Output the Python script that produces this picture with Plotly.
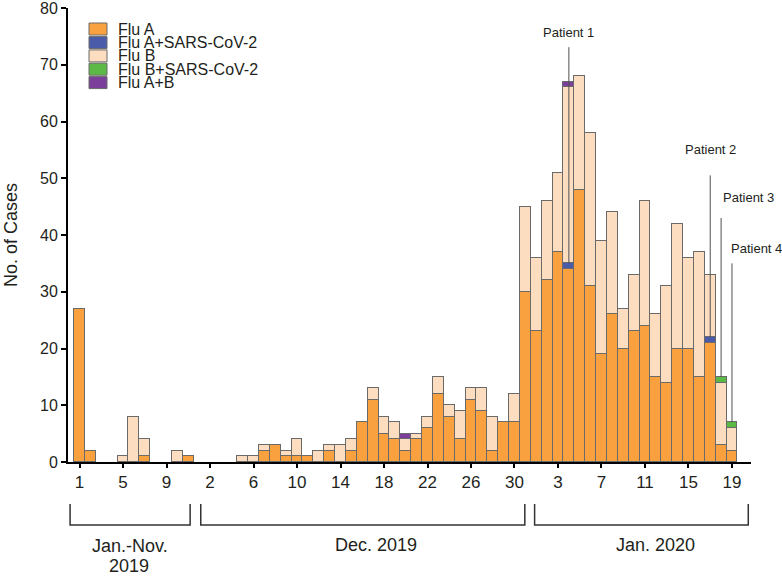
import plotly.graph_objects as go

# ---------------- data ----------------
months_2019 = ["2019-%02d" % m for m in range(1, 12)]
dec_2019 = ["2019-12-%02d" % d for d in range(1, 32)]
jan_2020 = ["2020-01-%02d" % d for d in range(1, 20)]
categories = months_2019 + dec_2019 + jan_2020

flu_a = ([27, 2, 0, 0, 0, 0, 1, 0, 0, 0, 1] +
         [0, 0, 0, 0, 0, 0, 2, 3, 1, 1, 1, 0, 2, 0, 2, 7, 11, 5, 4, 2, 4, 6, 12, 8, 4, 11, 9, 2, 7, 7, 30] +
         [23, 32, 37, 34, 48, 31, 19, 26, 20, 23, 24, 15, 14, 20, 20, 15, 21, 3, 2])
flu_a_sars = ([0] * 11 + [0] * 31 +
              [0, 0, 0, 1, 0, 0, 0, 0, 0, 0, 0, 0, 0, 0, 0, 0, 1, 0, 0])
flu_b = ([0, 0, 0, 0, 1, 8, 3, 0, 0, 2, 0] +
         [0, 0, 0, 0, 1, 1, 1, 0, 1, 3, 0, 2, 1, 3, 2, 0, 2, 3, 3, 2, 1, 2, 3, 2, 5, 2, 4, 6, 0, 5, 15] +
         [13, 14, 14, 31, 20, 27, 20, 18, 7, 10, 22, 11, 17, 22, 16, 22, 11, 11, 4])
flu_b_sars = ([0] * 11 + [0] * 31 +
              [0] * 17 + [1, 1])
flu_ab = ([0] * 11 +
          [0] * 19 + [1] + [0] * 11 +
          [0, 0, 0, 1] + [0] * 15)

series_names = ["Flu A", "Flu A+SARS-CoV-2", "Flu B", "Flu B+SARS-CoV-2", "Flu A+B"]
series_values = [flu_a, flu_a_sars, flu_b, flu_b_sars, flu_ab]
series_colors = ["#F9A03F", "#4A5BAA", "#FDDDBF", "#5DB946", "#7B3F9B"]

tick_positions = [0, 4, 8, 12, 16, 20, 24, 28, 32, 36, 40, 44, 48, 52, 56, 60]
tick_labels = ["1", "5", "9", "2", "6", "10", "14", "18", "22", "26", "30", "3", "7", "11", "15", "19"]

patient_labels = ["Patient 1", "Patient 2", "Patient 3", "Patient 4"]
patient_days = ["2020-01-04", "2020-01-17", "2020-01-18", "2020-01-19"]
patient_series = [1, 1, 3, 3]          # index of the series the patient belongs to
patient_line_top = [73.1, 50.5, 43.0, 35.0]
patient_label_y = [75.6, 55.0, 46.6, 37.6]

period_labels = ["Jan.-Nov.", "Dec. 2019", "Jan. 2020"]

FONT = "Liberation Sans, Arial, Helvetica, sans-serif"
W, H = 782, 581
ML, MR, MT, MB = 68, 31, 8, 119
PW, PH = W - ML - MR, H - MT - MB


def pxx(px):
    return (px - ML) / PW


def pxy(py):
    return (H - MB - py) / PH


fig = go.Figure()
for name, vals, col in zip(series_names, series_values, series_colors):
    fig.add_trace(go.Bar(
        x=categories, y=[v if v else None for v in vals], name=name,
        marker=dict(color=col, line=dict(color="#6a6a6a", width=1)),
        showlegend=False,
    ))

shapes = []
annotations = []

# custom compact legend
leg_rows = [29, 42.6, 55.9, 69.2, 82.6]
for name, col, cy in zip(series_names, series_colors, leg_rows):
    shapes.append(dict(type="rect", xref="paper", yref="paper",
                       x0=pxx(89), x1=pxx(107), y0=pxy(cy + 6), y1=pxy(cy - 6),
                       fillcolor=col, line=dict(color="#6a6a6a", width=1)))
    annotations.append(dict(xref="paper", yref="paper", x=pxx(116), y=pxy(cy),
                            xanchor="left", yanchor="middle", showarrow=False,
                            text=name, font=dict(family=FONT, size=16, color="#231F20")))

# patient markers
label_shift = [0, 0, 0, -3]
for lab, day, si, ytop, ylab, xs in zip(patient_labels, patient_days, patient_series,
                                        patient_line_top, patient_label_y, label_shift):
    idx = categories.index(day)
    ybase = sum(series_values[k][idx] for k in range(si + 1))
    shapes.append(dict(type="line", xref="x", yref="y", x0=idx, x1=idx,
                       y0=ybase, y1=ytop, line=dict(color="#505050", width=1),
                       layer="above"))
    anchor = "center" if lab in ("Patient 1", "Patient 2") else "left"
    annotations.append(dict(xref="x", yref="y", x=idx, y=ylab, xanchor=anchor,
                            yanchor="middle", showarrow=False, text=lab, xshift=xs,
                            font=dict(family=FONT, size=13, color="#231F20")))

# period brackets under the axis
brackets = [(-0.87, 10.17), (11.15, 40.95), (41.85, 61.5)]
yb0, yb1 = pxy(504), pxy(525)
for a, b in brackets:
    shapes.append(dict(type="path", xref="x", yref="paper",
                       path="M %f,%f L %f,%f L %f,%f L %f,%f" % (a, yb0, a, yb1, b, yb1, b, yb0),
                       line=dict(color="#333333", width=1.5)))

annotations += [
    dict(xref="paper", yref="paper", x=pxx(130), y=pxy(545.5), text=period_labels[0]),
    dict(xref="paper", yref="paper", x=pxx(129), y=pxy(565.5), text="2019"),
    dict(xref="paper", yref="paper", x=pxx(375.5), y=pxy(545), text=period_labels[1]),
    dict(xref="paper", yref="paper", x=pxx(655), y=pxy(545), text=period_labels[2]),
]
for a in annotations[-4:]:
    a.update(showarrow=False, xanchor="center", yanchor="middle",
             font=dict(family=FONT, size=18, color="#231F20"))

fig.update_layout(
    width=W, height=H,
    margin=dict(l=ML, r=MR, t=MT, b=MB, autoexpand=False),
    paper_bgcolor="white", plot_bgcolor="white",
    barmode="stack", bargap=0,
    shapes=shapes, annotations=annotations,
    font=dict(family=FONT, color="#231F20"),
    xaxis=dict(type="category", categoryorder="array", categoryarray=categories,
               range=[-1.06, 61.75], automargin=False,
               tickmode="array", tickvals=[categories[i] for i in tick_positions],
               ticktext=tick_labels, tickfont=dict(size=17, family=FONT, color="#231F20"),
               showline=True, linecolor="black", linewidth=2,
               ticks="outside", ticklen=4, tickwidth=2, tickcolor="black",
               ticklabelstandoff=0,
               showgrid=False, zeroline=False),
    yaxis=dict(range=[0, 80], tickmode="array", tickvals=list(range(0, 81, 10)),
               automargin=False, ticklabeloverflow="allow",
               tickfont=dict(size=16, family=FONT, color="#231F20"),
               showline=True, linecolor="black", linewidth=2,
               ticks="outside", ticklen=5, tickwidth=2, tickcolor="black",
               showgrid=False, zeroline=False,
               title=dict(text="No. of Cases", font=dict(size=18, family=FONT, color="#231F20"),
                          standoff=18)),
)

fig.write_html("out.html", config={"displayModeBar": False},
               post_script="document.body.style.margin='0';document.body.style.overflow='hidden';")
